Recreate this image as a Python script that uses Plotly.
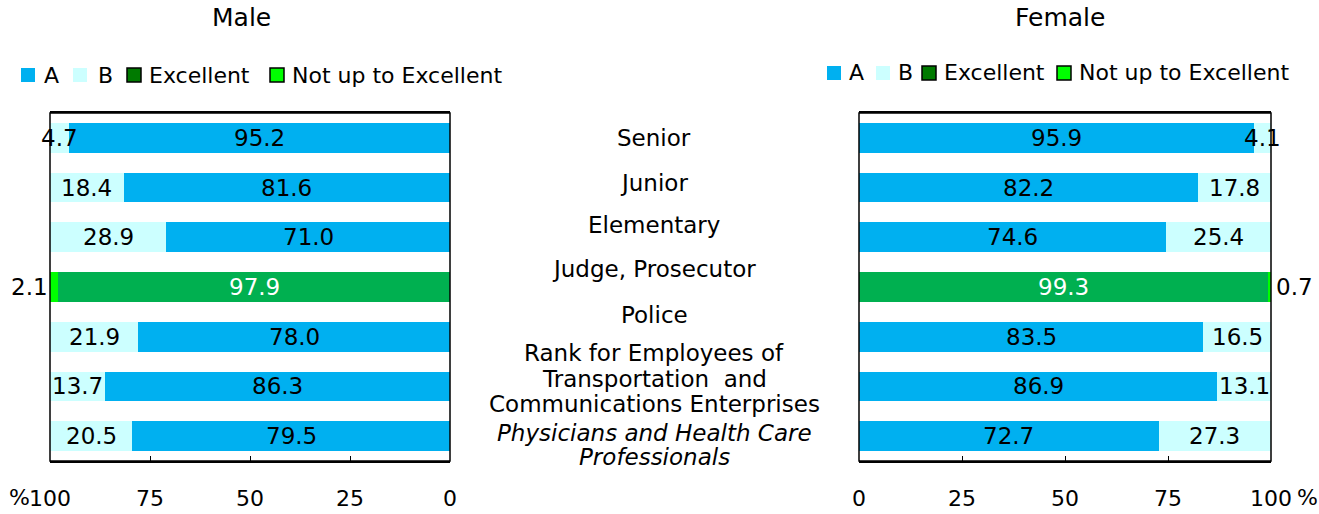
import plotly.graph_objects as go

# Categories, top to bottom
categories = ["Senior", "Junior", "Elementary", "Judge, Prosecutor", "Police",
              "Rank for Employees of Transportation and Communications Enterprises",
              "Physicians and Health Care Professionals"]
# label lines drawn between the panels, with their vertical offsets (px, up = +)
category_lines = [
    [("Senior", 0)],
    [("Junior", 5)],
    [("Elementary", 12)],
    [("Judge, Prosecutor", 18)],
    [("Police", 22)],
    [("Rank for Employees of", 33), ("Transportation  and", 7),
     ("Communications Enterprises", -18)],
    [("<i>Physicians and Health Care</i>", 3), ("<i>Professionals</i>", -21)],
]

# Male shares (%)
male_a = [95.2, 81.6, 71.0, None, 78.0, 86.3, 79.5]
male_b = [4.7, 18.4, 28.9, None, 21.9, 13.7, 20.5]
male_exc = [None, None, None, 97.9, None, None, None]
male_not = [None, None, None, 2.1, None, None, None]

# Female shares (%)
female_a = [95.9, 82.2, 74.6, None, 83.5, 86.9, 72.7]
female_b = [4.1, 17.8, 25.4, None, 16.5, 13.1, 27.3]
female_exc = [None, None, None, 99.3, None, None, None]
female_not = [None, None, None, 0.7, None, None, None]

tick_vals = [0, 25, 50, 75, 100]
tick_text = ["0", "25", "50", "75", "100"]

series_names = ["A", "B", "Excellent", "Not up to Excellent"]

C_A = "#00B0F0"
C_B = "#CCFFFF"
C_EXC_BAR = "#00B050"
C_EXC_KEY = "#007A00"
C_NOT = "#00FF00"
bar_colors = [C_A, C_B, C_EXC_BAR, C_NOT]
key_colors = [C_A, C_B, C_EXC_KEY, C_NOT]
key_borders = [False, False, True, True]

FONT = "DejaVu Sans"
FS = 23
W, H = 1319, 514

# legend layout in pixels: (key left edge, text left edge) for each entry
legend_male = dict(y=75, keys=[21, 73, 127, 270], texts=[42, 96, 147, 290])
legend_female = dict(y=73, keys=[827, 876, 922, 1057], texts=[847, 896, 942, 1077])

fig = go.Figure()


def add_panel(series, xaxis):
    a, b, exc, nt = series
    for vals, color, name in zip(series, bar_colors, series_names):
        fig.add_trace(go.Bar(
            y=categories, x=[v if v is not None else 0 for v in vals],
            orientation="h", name=name,
            marker=dict(color=color, line=dict(width=0)),
            xaxis=xaxis, yaxis="y", showlegend=False, hoverinfo="skip"))

    # value labels centred on their segments
    for i, cat in enumerate(categories):
        if a[i] is not None:
            fig.add_annotation(x=a[i] / 2, y=cat, xref=xaxis, yref="y",
                               text=f"{a[i]:.1f}", showarrow=False,
                               font=dict(family=FONT, size=FS, color="black"))
            fig.add_annotation(x=a[i] + b[i] / 2, y=cat, xref=xaxis, yref="y",
                               text=f"{b[i]:.1f}", showarrow=False,
                               font=dict(family=FONT, size=FS, color="black"))
        if exc[i] is not None:
            fig.add_annotation(x=exc[i] / 2, y=cat, xref=xaxis, yref="y",
                               text=f"{exc[i]:.1f}", showarrow=False,
                               font=dict(family=FONT, size=FS, color="white"))
            left_side = xaxis == "x"
            fig.add_annotation(x=exc[i] + nt[i], y=cat, xref=xaxis, yref="y",
                               text=f"{nt[i]:.1f}", showarrow=False,
                               xanchor="right" if left_side else "left",
                               xshift=0 if left_side else 3,
                               font=dict(family=FONT, size=FS, color="black"))


def add_legend(spec):
    yc = spec["y"]
    for name, color, border, kx, tx in zip(series_names, key_colors, key_borders,
                                           spec["keys"], spec["texts"]):
        size = 14
        fig.add_shape(type="rect", xref="paper", yref="paper",
                      x0=kx / W, x1=(kx + size) / W,
                      y0=1 - (yc + size / 2) / H, y1=1 - (yc - size / 2) / H,
                      fillcolor=color,
                      line=dict(color="black" if border else color,
                                width=1.5 if border else 0))
        fig.add_annotation(x=tx / W, y=1 - yc / H, xref="paper", yref="paper",
                           xanchor="left", yanchor="middle", text=name,
                           showarrow=False,
                           font=dict(family=FONT, size=22, color="black"))


add_panel((male_a, male_b, male_exc, male_not), "x")
add_panel((female_a, female_b, female_exc, female_not), "x2")
add_legend(legend_male)
add_legend(legend_female)

# category labels between the panels
for cat, lines in zip(categories, category_lines):
    for txt, sh in lines:
        fig.add_annotation(x=654 / W, y=cat, xref="paper", yref="y", yshift=sh,
                           xanchor="center", yanchor="middle",
                           text=txt, showarrow=False, align="center",
                           font=dict(family=FONT, size=FS, color="black"))

# panel titles
for txt, xp in (("Male", 241), ("Female", 1060)):
    fig.add_annotation(x=xp / W, y=1 - 18 / H, xref="paper", yref="paper",
                       xanchor="center", yanchor="middle", text=txt, showarrow=False,
                       font=dict(family=FONT, size=25, color="black"))

# percent signs next to the 100 tick labels
fig.add_annotation(x=100, y=1 - 497 / H, xref="x", yref="paper", text="%",
                   showarrow=False, xanchor="right", yanchor="middle", xshift=-18,
                   font=dict(family=FONT, size=22, color="black"))
fig.add_annotation(x=100, y=1 - 497 / H, xref="x2", yref="paper", text="%",
                   showarrow=False, xanchor="left", yanchor="middle", xshift=24,
                   font=dict(family=FONT, size=22, color="black"))

axis_common = dict(showline=True, mirror=True, linecolor="black", linewidth=1.5,
                   showgrid=False, zeroline=False, ticks="inside", ticklen=5,
                   tickcolor="black", tickvals=tick_vals, ticktext=tick_text,
                   tickfont=dict(family=FONT, size=22, color="black"),
                   ticklabelstandoff=17, fixedrange=True, automargin=False)

ybot, ytop = 1 - 461 / H, 1 - 113 / H

fig.update_layout(
    width=W, height=H, barmode="stack", bargap=0.4, showlegend=False,
    plot_bgcolor="white", paper_bgcolor="white",
    margin=dict(l=0, r=0, t=0, b=0, autoexpand=False),
    xaxis=dict(domain=[50 / W, 450 / W], range=[100, 0], anchor="y", **axis_common),
    xaxis2=dict(domain=[859 / W, 1271 / W], range=[0, 100], anchor="y", **axis_common),
    yaxis=dict(domain=[ybot, ytop], autorange="reversed", showticklabels=False,
               showgrid=False, zeroline=False, showline=False, fixedrange=True,
               automargin=False),
)

# box outline for each panel
for dom in ([50 / W, 450 / W], [859 / W, 1271 / W]):
    fig.add_shape(type="rect", xref="paper", yref="paper",
                  x0=dom[0], x1=dom[1], y0=ybot, y1=ytop,
                  line=dict(color="black", width=1.5), layer="above")

fig.write_html("out.html")
